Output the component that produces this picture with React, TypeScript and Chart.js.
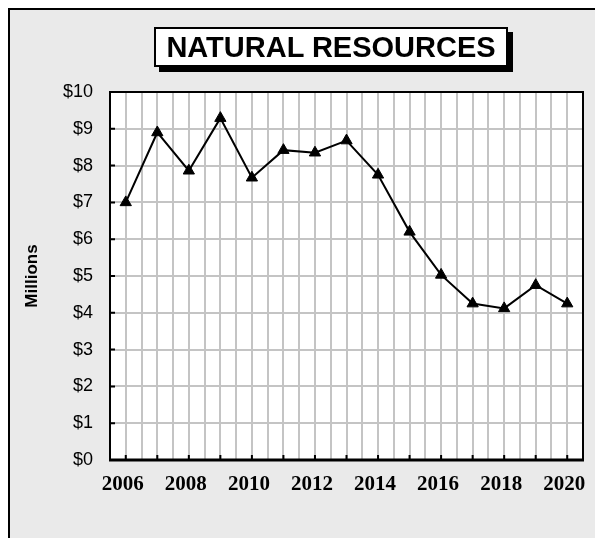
import React, { useEffect, useRef } from "react";
import { Chart, registerables } from "chart.js";

Chart.register(...registerables);

const TITLE = "NATURAL RESOURCES";
const Y_TITLE = "Millions";
const years = [2006, 2007, 2008, 2009, 2010, 2011, 2012, 2013, 2014, 2015, 2016, 2017, 2018, 2019, 2020];
const revenue = [7.0, 8.9, 7.86, 9.29, 7.67, 8.42, 8.35, 8.68, 7.75, 6.2, 5.03, 4.25, 4.12, 4.75, 4.25];
const xLabelYears = [2006, 2008, 2010, 2012, 2014, 2016, 2018, 2020];
const yTickValues = [0, 1, 2, 3, 4, 5, 6, 7, 8, 9, 10];

const plotFrame = {
  id: "plotFrame",
  beforeDraw(chart: any) {
    const { ctx, chartArea: a } = chart;
    ctx.save();
    ctx.fillStyle = "#ffffff";
    ctx.fillRect(a.left, a.top, a.right - a.left, a.bottom - a.top);
    ctx.restore();
  },
  beforeDatasetsDraw(chart: any) {
    const { ctx, chartArea: a, scales } = chart;
    ctx.save();
    ctx.strokeStyle = "#000000";
    ctx.lineWidth = 2;
    ctx.strokeRect(a.left, a.top, a.right - a.left, a.bottom - a.top);
    ctx.lineWidth = 3;
    ctx.beginPath();
    ctx.moveTo(a.left - 1, a.bottom);
    ctx.lineTo(a.right + 1, a.bottom);
    ctx.stroke();
    ctx.lineWidth = 2;
    ctx.beginPath();
    for (const v of yTickValues) {
      const py = scales.y.getPixelForValue(v);
      ctx.moveTo(a.left, py);
      ctx.lineTo(a.left + 5, py);
    }
    for (const yr of years) {
      const px = scales.x.getPixelForValue(yr);
      ctx.moveTo(px, a.bottom);
      ctx.lineTo(px, a.bottom - 5);
    }
    ctx.stroke();
    ctx.restore();
  },
};

export default function App() {
  const canvasRef = useRef<HTMLCanvasElement | null>(null);

  useEffect(() => {
    if (!canvasRef.current) return;
    const chart = new Chart(canvasRef.current, {
      type: "line",
      data: {
        datasets: [
          {
            data: years.map((yr, i) => ({ x: yr, y: revenue[i] })),
            borderColor: "#000000",
            borderWidth: 2,
            backgroundColor: "#000000",
            pointStyle: "triangle",
            pointRadius: 6.5,
            pointBorderWidth: 1,
            pointBackgroundColor: "#000000",
            pointBorderColor: "#000000",
            tension: 0,
          },
        ],
      },
      plugins: [plotFrame],
      options: {
        animation: false,
        responsive: false,
        events: [],
        layout: { padding: { top: 82, right: 8, bottom: 38, left: 0 } },
        plugins: {
          legend: { display: false },
          tooltip: { enabled: false },
          title: { display: false },
        },
        scales: {
          x: {
            type: "linear",
            min: 2005.5,
            max: 2020.5,
            afterFit: (s: any) => {
              s.height = 40;
            },
            border: { display: false },
            grid: { color: "#c4c4c4", lineWidth: 2, drawTicks: false },
            ticks: {
              stepSize: 0.5,
              autoSkip: false,
              maxRotation: 0,
              minRotation: 0,
              padding: 12,
              labelOffset: -3,
              color: "#000000",
              font: { family: '"Liberation Serif", "Times New Roman", serif', size: 21, weight: "bold" },
              callback: (v: any) => {
                const n = Number(v);
                const r = Math.round(n);
                return Math.abs(n - r) < 1e-6 && xLabelYears.includes(r) ? String(r) : "";
              },
            },
          },
          y: {
            min: 0,
            max: 10,
            afterFit: (s: any) => {
              s.width = 100;
            },
            border: { display: false },
            grid: { color: "#c4c4c4", lineWidth: 2, drawTicks: false },
            title: {
              display: true,
              text: Y_TITLE,
              color: "#000000",
              padding: { top: 12, bottom: 0 },
              font: { family: '"Liberation Sans", Arial, sans-serif', size: 17, weight: "bold" },
            },
            ticks: {
              stepSize: 1,
              padding: 17,
              color: "#000000",
              font: { family: '"Liberation Sans", Arial, sans-serif', size: 18 },
              callback: (v: any) => "$" + v,
            },
          },
        },
      },
    });
    return () => chart.destroy();
  }, []);

  return (
    <div
      style={{
        position: "absolute",
        left: 8,
        top: 8,
        right: 0,
        bottom: 0,
        background: "#eaeaea",
        borderLeft: "2px solid #000",
        borderTop: "2px solid #000",
        boxSizing: "border-box",
        overflow: "hidden",
      }}
    >
      <canvas
        ref={canvasRef}
        width={585}
        height={528}
        style={{ position: "absolute", left: 0, top: 0, width: 585, height: 528 }}
      />
      <div
        style={{
          position: "absolute",
          left: 144,
          top: 17,
          width: 354,
          height: 40,
          boxSizing: "border-box",
          border: "2px solid #000",
          background: "#ffffff",
          boxShadow: "5px 5px 0 #000",
          display: "flex",
          alignItems: "center",
          justifyContent: "center",
          fontFamily: '"Liberation Sans", Arial, sans-serif',
          fontWeight: "bold",
          fontSize: 29,
          color: "#000",
          whiteSpace: "nowrap",
        }}
      >
        {TITLE}
      </div>
    </div>
  );
}
